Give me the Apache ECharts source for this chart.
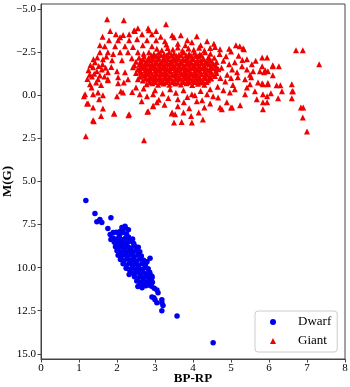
<!DOCTYPE html>
<html>
<head>
<meta charset="utf-8">
<script src="https://cdn.jsdelivr.net/npm/echarts@6/dist/echarts.min.js"></script>
<style>
  html, body { margin: 0; padding: 0; background: #fff; }
  #main { width: 350px; height: 387px; }
</style>
</head>
<body>
<div id="main"></div>
<script>
// tick labels
var xTicks = [0, 1, 2, 3, 4, 5, 6, 7, 8];
var yTicks = [-5, -2.5, 0, 2.5, 5, 7.5, 10, 12.5, 15];

// dwarf stars [BP-RP, M(G)]
var dwarfPoints = [
  [1.18,6.1],[1.42,6.86],[1.47,7.33],[1.55,7.2],[1.6,7.38],[1.84,7.1],[1.76,7.73],[1.82,8.08],[1.9,7.96],[1.84,8.37],
  [2.21,7.67],[2.08,7.9],[2.16,7.85],[2.13,7.67],[2.21,7.6],
  [1.98,7.95],[2.06,8.1],[2.13,7.98],[2.25,8.05],[2.3,7.8],
  [1.9,8.28],[1.98,8.35],[2.06,8.25],[2.14,8.38],[2.22,8.3],[2.3,8.22],[2.41,8.34],
  [1.93,8.52],[2.01,8.6],[2.09,8.5],[2.17,8.62],[2.26,8.55],[2.34,8.47],[2.44,8.6],
  [1.96,8.78],[2.04,8.85],[2.12,8.75],[2.2,8.83],[2.28,8.77],[2.37,8.86],[2.46,8.74],[2.56,8.82],
  [2.0,9.02],[2.08,9.1],[2.16,9.0],[2.24,9.08],[2.33,9.03],[2.42,9.11],[2.5,9.0],[2.6,9.07],
  [2.03,9.28],[2.11,9.35],[2.2,9.25],[2.28,9.33],[2.36,9.27],[2.45,9.36],[2.55,9.26],[2.64,9.32],
  [2.09,9.53],[2.17,9.6],[2.26,9.5],[2.34,9.58],[2.43,9.52],[2.51,9.61],[2.6,9.5],[2.7,9.57],
  [2.16,9.78],[2.25,9.85],[2.33,9.75],[2.41,9.83],[2.49,9.77],[2.57,9.86],[2.66,9.76],[2.75,9.82],
  [2.24,10.03],[2.32,10.1],[2.4,10.0],[2.48,10.08],[2.56,10.02],[2.64,10.11],[2.73,10.0],[2.82,10.07],
  [2.37,10.28],[2.45,10.35],[2.52,10.25],[2.6,10.33],[2.68,10.27],[2.77,10.36],[2.86,10.26],
  [2.46,10.53],[2.54,10.6],[2.62,10.5],[2.7,10.58],[2.79,10.52],[2.88,10.61],
  [2.52,10.78],[2.6,10.85],[2.68,10.75],[2.76,10.83],[2.84,10.77],[2.93,10.84],
  [2.6,11.02],[2.68,10.97],[2.76,11.05],[2.84,11.0],[2.91,11.08],
  [2.87,9.45],[2.79,9.65],[2.92,10.5],[2.32,10.4],[2.87,10.4],[2.92,10.58],
  [2.55,11.1],[2.66,11.16],[2.98,11.2],[3.05,11.3],[3.08,11.45],[2.92,11.7],[2.97,11.75],
  [3.0,11.86],[3.05,12.03],[3.18,11.86],[3.18,12.03],[3.21,12.2],[3.18,12.5],
  [3.58,12.8],[4.53,14.36]
];

// giant stars [BP-RP, M(G)]
var giantPoints = [
  // sparse outliers
  [1.74,-4.42],[2.18,-4.36],[1.18,2.38],[2.71,2.6],[1.13,0.05],[1.21,0.47],[1.37,1.45],[1.58,1.2],[1.93,1.06],
  [2.3,1.15],[2.8,0.95],[2.95,0.6],[3.44,1.06],
  [1.82,-3.73],[1.97,-3.55],[2.08,-3.37],[2.47,-3.73],[2.55,-3.9],[2.84,-3.78],[3.03,-3.73],[3.29,-4.13],
  [6.71,-2.62],[6.89,-2.62],[7.32,-1.8],[7.0,2.1],[6.89,1.28],[6.84,0.7],[6.6,0.17],[6.61,-0.23],[6.6,-0.64],
  [6.26,-1.69],[6.1,-1.69],[5.95,-2.2],[5.82,-2.2],[5.13,-2.9],[5.23,-2.85],[5.34,-2.67],[4.37,-3.14],[4.1,-3.43],
  [3.68,-3.49],[3.97,1.57],[4.26,1.4],[5.84,0.81],[5.24,0.58],[5.0,0.7],[4.76,0.81],
  // upper left scatter
  [2.82,-3.9],[2.16,-3.5],[2.32,-3.55],[2.45,-3.78],[2.66,-3.55],[2.92,-3.55],[1.79,-3.2],[2.03,-3.2],[2.32,-3.2],
  [2.53,-3.26],[2.79,-3.2],[3.03,-3.2],[3.26,-3.14],[1.68,-2.85],[1.95,-2.85],[2.21,-2.85],[2.42,-2.8],[2.68,-2.9],
  [2.92,-2.85],[1.55,-2.5],[1.76,-2.5],[2.08,-2.5],[2.29,-2.5],[2.55,-2.5],[1.42,-1.92],[1.63,-2.1],[1.87,-2.03],
  [2.13,-2.03],[2.39,-2.15],[1.37,-1.63],[1.47,-1.4],[1.6,-1.5],[1.76,-1.34],[2.0,-1.4],[2.21,-1.34],[2.42,-1.63],
  [1.34,-1.1],[1.5,-0.93],[1.76,-0.93],[2.03,-1.05],[2.29,-0.93],[2.55,-0.93],
  // left clump
  [1.25,-1.45],[1.3,-1.75],[1.4,-1.25],[1.52,-1.7],[1.28,-1.2],[1.45,-0.75],[1.33,-0.45],[1.55,-1.15],[1.62,-1.8],
  [1.38,-2.1],[1.22,-0.95],[1.48,-2.2],[1.58,-0.6],[1.7,-1.6],[1.67,-1.1],[1.85,-1.65],[1.9,-2.4],[1.72,-2.25],
  [1.55,-2.9],[1.62,-3.4],
  [1.29,-0.64],[1.16,-0.06],[1.37,-0.06],[1.5,-0.17],[1.53,0.23],[1.63,0.0],[1.24,0.47],[1.37,0.7],[1.63,0.76],
  [1.39,1.51],[1.92,1.05],[2.32,1.1],[2.03,-0.7],[2.18,-0.75],[2.1,-0.23],[2.0,0.06],[2.16,-0.17],[2.6,-0.06],
  [2.79,0.06],[2.95,-0.06],[3.05,0.4],[2.95,0.64],[2.82,0.93],[3.45,1.0],[1.76,-0.87],
  // lower right scatter
  [3.6,0.23],[3.76,0.4],[3.6,0.64],[3.5,1.57],[4.1,0.35],[4.24,0.29],[4.45,0.47],[4.71,0.7],[5.03,0.7],[4.89,0.4],
  [4.66,0.12],[4.53,0.06],[4.37,-0.06],[3.97,-0.06],[4.05,0.0],[4.97,-0.17],[5.1,-0.35],[5.42,-0.46],[5.37,-0.06],
  [5.68,0.23],[5.84,0.4],[5.63,-0.23],[5.71,-0.75],[5.5,-0.64],
  [5.84,-0.64],[5.97,-0.64],[6.2,-0.58],[6.3,-0.58],[5.84,-0.06],[5.95,0.06],[6.05,-0.12],[6.24,0.17],[6.34,-0.23],
  [6.63,-0.23],[5.95,0.4],[6.9,0.7],
  [5.87,-1.34],[5.97,-1.4],[6.1,-1.16],[5.82,-0.7],[5.97,-0.72],[5.82,-1.69],[6.1,-1.74],
  [3.45,-3.49],[3.5,-3.37],[3.97,-3.08],[4.58,-2.8],[4.71,-2.67],[5.32,-2.73],[4.87,-2.27],[5.1,-1.92],[5.42,-2.1],
  [5.29,-1.69],[5.58,-1.4],[5.76,-1.4],[5.9,-1.45],[5.03,-1.5],[5.16,-1.34],[5.42,-1.5],[5.18,-1.05],[5.37,-0.93],
  [5.53,-1.05],
  [4.7,-2.4],[4.8,-2.0],[4.95,-1.8],[4.75,-1.6],[4.9,-1.2],[4.72,-1.0],[4.85,-0.8],[5.0,-1.0],[4.65,-0.5],[4.8,-0.3],
  [5.05,-0.6],[5.2,-2.3],[5.0,-2.55],[4.95,-2.7],[4.55,-3.0],[4.2,-2.9],[3.85,-3.2],[3.6,-3.0],[3.3,-2.95],[3.15,-3.4],
  [3.8,-2.9],[4.45,-2.75],[5.3,-2.05],[5.55,-1.8],[5.65,-2.0],[5.5,-1.2],
  [2.7,-0.4],[3.0,-0.3],[3.2,-0.1],[3.4,-0.35],[3.35,0.15],[3.55,-0.15],[3.75,-0.3],[3.85,0.1],[4.2,-0.25],[4.45,-0.35],
  [3.1,0.25],[2.5,-0.45],[2.4,-0.2],[4.3,0.7],[3.25,0.55],[3.9,0.75],[4.15,1.0],[2.65,0.35],
  [3.53,1.1],[3.75,1.0],[3.7,1.55],[3.95,1.2],
  // dense core
  [3.05,-2.7],[3.18,-2.62],[3.33,-2.75],[3.47,-2.66],[3.6,-2.78],[3.72,-2.6],[3.88,-2.72],[4.02,-2.65],[4.16,-2.76],[4.3,-2.6],
  [2.7,-2.42],[2.84,-2.5],[2.97,-2.4],[3.1,-2.47],[3.24,-2.38],[3.37,-2.5],[3.5,-2.43],[3.63,-2.36],[3.76,-2.49],
  [3.9,-2.41],[4.04,-2.47],[4.18,-2.38],[4.32,-2.5],[4.46,-2.42],
  [2.58,-2.18],[2.71,-2.25],[2.83,-2.16],[2.96,-2.27],[3.09,-2.2],[3.22,-2.14],[3.35,-2.26],[3.48,-2.19],[3.61,-2.23],
  [3.74,-2.13],[3.87,-2.24],[4.0,-2.17],[4.13,-2.28],[4.27,-2.15],[4.41,-2.22],[4.56,-2.18],
  [2.5,-1.95],[2.63,-2.02],[2.76,-1.93],[2.89,-2.03],[3.02,-1.96],[3.15,-1.9],[3.28,-2.01],[3.41,-1.94],[3.54,-2.0],
  [3.67,-1.92],[3.8,-2.03],[3.93,-1.95],[4.06,-1.9],[4.19,-2.02],[4.33,-1.94],[4.47,-2.0],[4.62,-1.93],
  [2.46,-1.73],[2.59,-1.8],[2.72,-1.72],[2.85,-1.79],[2.98,-1.7],[3.11,-1.77],[3.24,-1.74],[3.37,-1.81],[3.5,-1.7],
  [3.63,-1.78],[3.76,-1.73],[3.89,-1.8],[4.02,-1.71],[4.15,-1.77],[4.29,-1.72],[4.43,-1.8],[4.58,-1.75],
  [2.55,-1.52],[2.68,-1.58],[2.81,-1.5],[2.94,-1.57],[3.07,-1.49],[3.2,-1.55],[3.33,-1.51],[3.46,-1.59],[3.59,-1.48],
  [3.72,-1.56],[3.85,-1.52],[3.98,-1.58],[4.11,-1.5],[4.24,-1.55],[4.38,-1.49],[4.52,-1.57],[4.67,-1.52],
  [2.5,-1.3],[2.63,-1.36],[2.76,-1.28],[2.89,-1.35],[3.02,-1.27],[3.15,-1.33],[3.28,-1.3],[3.41,-1.37],[3.54,-1.26],
  [3.67,-1.34],[3.8,-1.29],[3.93,-1.36],[4.06,-1.28],[4.19,-1.33],[4.33,-1.27],[4.47,-1.35],[4.62,-1.3],
  [2.6,-1.08],[2.73,-1.14],[2.86,-1.06],[2.99,-1.12],[3.12,-1.05],[3.25,-1.11],[3.38,-1.07],[3.51,-1.15],[3.64,-1.04],
  [3.77,-1.12],[3.9,-1.08],[4.03,-1.13],[4.16,-1.05],[4.3,-1.1],[4.44,-1.06],[4.58,-1.12],
  [2.68,-0.86],[2.82,-0.92],[2.95,-0.84],[3.08,-0.9],[3.21,-0.83],[3.34,-0.89],[3.47,-0.85],[3.6,-0.93],[3.73,-0.82],
  [3.86,-0.9],[3.99,-0.86],[4.12,-0.91],[4.26,-0.83],[4.4,-0.88],
  [2.78,-0.64],[2.93,-0.7],[3.08,-0.62],[3.23,-0.68],[3.38,-0.61],[3.53,-0.69],[3.68,-0.63],[3.83,-0.7],[3.98,-0.6],
  [4.13,-0.67],[4.3,-0.62],
  // core fill between rows
  [2.9,-2.32],[3.03,-2.3],[3.16,-2.33],[3.3,-2.31],[3.43,-2.34],[3.56,-2.3],[3.69,-2.32],[3.82,-2.33],[3.95,-2.3],[4.08,-2.31],[4.22,-2.33],
  [2.69,-2.08],[2.82,-2.07],[2.95,-2.1],[3.08,-2.08],[3.21,-2.06],[3.34,-2.09],[3.47,-2.07],[3.6,-2.1],[3.73,-2.06],[3.86,-2.08],[3.99,-2.09],[4.12,-2.06],[4.26,-2.08],[4.4,-2.07],
  [2.65,-1.86],[2.78,-1.88],[2.92,-1.85],[3.05,-1.87],[3.18,-1.88],[3.31,-1.85],[3.44,-1.87],[3.57,-1.86],[3.7,-1.88],[3.83,-1.85],[3.96,-1.87],[4.09,-1.86],[4.23,-1.88],[4.37,-1.85],[4.52,-1.87],
  [2.62,-1.64],[2.75,-1.66],[2.88,-1.63],[3.01,-1.65],[3.14,-1.66],[3.27,-1.63],[3.4,-1.65],[3.53,-1.64],[3.66,-1.66],[3.79,-1.63],[3.92,-1.65],[4.05,-1.64],[4.18,-1.66],[4.32,-1.63],[4.46,-1.65],[4.62,-1.64],
  [2.61,-1.42],[2.74,-1.44],[2.87,-1.41],[3.0,-1.43],[3.13,-1.44],[3.26,-1.41],[3.39,-1.43],[3.52,-1.42],[3.65,-1.44],[3.78,-1.41],[3.91,-1.43],[4.04,-1.42],[4.17,-1.44],[4.31,-1.41],[4.45,-1.43],[4.6,-1.42],
  [2.67,-1.2],[2.8,-1.22],[2.93,-1.19],[3.06,-1.21],[3.19,-1.22],[3.32,-1.19],[3.45,-1.21],[3.58,-1.2],[3.71,-1.22],[3.84,-1.19],[3.97,-1.21],[4.1,-1.2],[4.23,-1.22],[4.37,-1.19],[4.51,-1.21],
  [2.75,-0.98],[2.89,-1.0],[3.02,-0.97],[3.15,-0.99],[3.28,-1.0],[3.41,-0.97],[3.54,-0.99],[3.67,-0.98],[3.8,-1.0],[3.93,-0.97],[4.06,-0.99],[4.19,-0.98],[4.33,-1.0],[4.48,-0.97],
  [2.86,-0.76],[3.0,-0.78],[3.15,-0.75],[3.3,-0.77],[3.45,-0.78],[3.6,-0.75],[3.75,-0.77],[3.9,-0.76],[4.05,-0.78],[4.2,-0.75],[4.36,-0.77]
];

var serif = '"Liberation Serif", "DejaVu Serif", serif';

function fmtY(v) {
  return (v < 0 ? '\u2212' : '') + Math.abs(v).toFixed(1);
}

var chart = echarts.init(document.getElementById('main'), null, { renderer: 'canvas' });
chart.setOption({
  animation: false,
  backgroundColor: '#fff',
  grid: {
    left: 41, right: 5, top: 4, bottom: 28,
    outerBoundsMode: 'none', containLabel: false,
    show: true, borderColor: '#444', borderWidth: 1, backgroundColor: 'transparent'
  },
  legend: {
    data: [{ name: 'Dwarf', icon: 'circle' }, { name: 'Giant', icon: 'triangle' }],
    orient: 'vertical',
    left: 255, top: 311,
    padding: [4, 6, 4, 15],
    itemWidth: 6, itemHeight: 6, itemGap: 5,
    backgroundColor: '#fff',
    borderColor: '#ccc', borderWidth: 1, borderRadius: 3,
    textStyle: { fontFamily: serif, fontSize: 13, color: '#000', lineHeight: 14, padding: [0, 0, 0, 17] }
  },
  xAxis: {
    type: 'value', min: 0, max: 8, interval: 1,
    name: 'BP-RP', nameLocation: 'middle', nameGap: 13, nameMoveOverlap: false,
    nameTextStyle: { fontFamily: serif, fontSize: 13, fontWeight: 'bold', color: '#000' },
    axisLine: { show: true, onZero: false, lineStyle: { color: '#444', width: 1 } },
    axisTick: { show: true, length: 3.5, lineStyle: { color: '#444' } },
    axisLabel: { fontFamily: serif, fontSize: 11, color: '#000', margin: 4,
      formatter: function (v) { return xTicks.indexOf(v) >= 0 ? String(v) : ''; } },
    splitLine: { show: false }
  },
  yAxis: {
    type: 'value', inverse: true, min: -5.3, max: 15.3,
    name: 'M(G)', nameLocation: 'middle', nameGap: 27, nameRotate: 90, nameMoveOverlap: false,
    nameTextStyle: { fontFamily: serif, fontSize: 13, fontWeight: 'bold', color: '#000' },
    axisLine: { show: true, onZero: false, lineStyle: { color: '#444', width: 1 } },
    axisTick: { show: true, length: 3.5, customValues: yTicks, lineStyle: { color: '#444' } },
    axisLabel: { fontFamily: serif, fontSize: 11, color: '#000', margin: 5,
      customValues: yTicks, formatter: fmtY },
    splitLine: { show: false }
  },
  series: [
    {
      name: 'Dwarf', type: 'scatter', symbol: 'circle', symbolSize: 5.5,
      itemStyle: { color: '#0000ee', opacity: 1 },
      data: dwarfPoints
    },
    {
      name: 'Giant', type: 'scatter', symbol: 'triangle', symbolSize: 6,
      itemStyle: { color: '#f00000', opacity: 1 },
      data: giantPoints
    }
  ]
});
</script>
</body>
</html>
